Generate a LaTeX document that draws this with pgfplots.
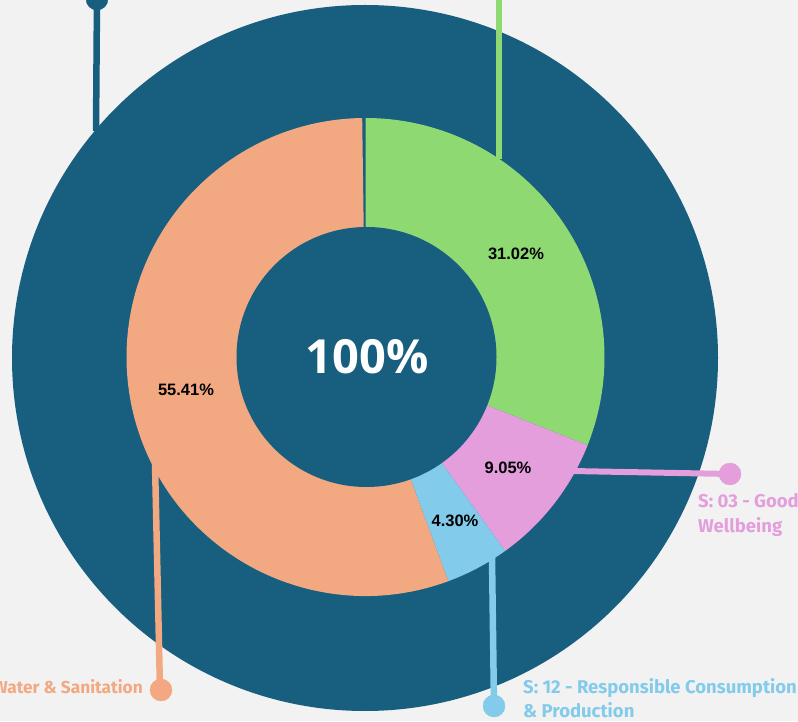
\documentclass[border=0pt]{standalone}
\usepackage{pgfplots}
\usepackage{pgfplotstable}
\pgfplotsset{compat=1.18}
\usepackage{fontspec}
\setmainfont{Liberation Sans}
\newfontfamily\hundfont{Open Sans}
\newfontfamily\labfont{Fira Sans}
\definecolor{bgc}{HTML}{F2F2F2}
\definecolor{dblue}{HTML}{175E7F}
\definecolor{cgreen}{HTML}{8FD973}
\definecolor{cpink}{HTML}{E49EDC}
\definecolor{clblue}{HTML}{83CBEB}
\definecolor{corange}{HTML}{F2A982}
\pgfplotstableread{
value
31.02
9.05
4.30
55.41
}\sdgtable
\begin{document}
\begin{tikzpicture}
\pgfplotstablegetelem{0}{value}\of\sdgtable \let\vA\pgfplotsretval
\pgfplotstablegetelem{1}{value}\of\sdgtable \let\vB\pgfplotsretval
\pgfplotstablegetelem{2}{value}\of\sdgtable \let\vC\pgfplotsretval
\pgfplotstablegetelem{3}{value}\of\sdgtable \let\vD\pgfplotsretval
\pgfmathsetmacro{\aZ}{90}
\pgfmathsetmacro{\aA}{\aZ-3.6*\vA}
\pgfmathsetmacro{\aB}{\aA-3.6*\vB}
\pgfmathsetmacro{\aC}{\aB-3.6*\vC}
\pgfmathsetmacro{\aD}{\aC-3.6*\vD}
\useasboundingbox (0,0) rectangle (798pt,721pt);
\fill[bgc] (0,0) rectangle (798pt,721pt);
\clip (0,0) rectangle (798pt,721pt);
\begin{axis}[
  at={(0,0)}, anchor=south west,
  width=798pt, height=721pt, scale only axis,
  xmin=0, xmax=798, ymin=0, ymax=721,
  axis lines=none, ticks=none, clip=false,
]
% outer ring (100%)
\fill[dblue] (axis cs:365,363) circle[radius=353pt];
% inner donut segments
\fill[cgreen] (axis cs:365.5,364) -- ++(\aZ:239pt) arc[start angle=\aZ, end angle=\aA, radius=239pt] -- cycle;
\fill[cpink] (axis cs:365.5,364) -- ++(\aA:239pt) arc[start angle=\aA, end angle=\aB, radius=239pt] -- cycle;
\fill[clblue] (axis cs:365.5,364) -- ++(\aB:239pt) arc[start angle=\aB, end angle=\aC, radius=239pt] -- cycle;
\fill[corange] (axis cs:365.5,364) -- ++(\aC:239pt) arc[start angle=\aC, end angle=\aD, radius=239pt] -- cycle;
\fill[dblue] (axis cs:366.5,364) circle[radius=130pt];
% leader lines
\addplot[draw=dblue, line width=6.5pt, mark=none] coordinates {(97,723) (96,590)};
\addplot[dblue, only marks, mark=*, mark size=11pt] coordinates {(97,722)};
\addplot[draw=cgreen, line width=6.5pt, mark=none] coordinates {(499,723) (499,562)};
\addplot[draw=cpink, line width=6pt, mark=none] coordinates {(572,250) (730,247)};
\addplot[cpink, only marks, mark=*, mark size=11pt] coordinates {(730,247)};
\addplot[draw=clblue, line width=6.5pt, mark=none] coordinates {(492,164) (494,15)};
\addplot[clblue, only marks, mark=*, mark size=11pt] coordinates {(494,15)};
\addplot[draw=corange, line width=6.5pt, mark=none] coordinates {(155,258) (160,31)};
\addplot[corange, only marks, mark=*, mark size=11pt] coordinates {(161,31)};
% value labels
\node[font=\fontsize{16.5}{20}\selectfont\bfseries] at (axis cs:516,467) {31.02\%};
\node[font=\fontsize{16.5}{20}\selectfont\bfseries] at (axis cs:508,253) {9.05\%};
\node[font=\fontsize{16.5}{20}\selectfont\bfseries] at (axis cs:455,200) {4.30\%};
\node[font=\fontsize{16.5}{20}\selectfont\bfseries] at (axis cs:186,331) {55.41\%};
\node[font=\fontsize{47}{52}\selectfont\hundfont\bfseries, text=white] at (axis cs:367,364) {100\%};
% category labels
\node[anchor=base west, inner sep=0, text=cpink, font=\fontsize{18.5}{22}\selectfont\labfont\bfseries] at (axis cs:698,214) {S: 03 - Good};
\node[anchor=base west, inner sep=0, text=cpink, font=\fontsize{18.5}{22}\selectfont\labfont\bfseries] at (axis cs:698,189) {Wellbeing};
\node[anchor=base west, inner sep=0, text=clblue, font=\fontsize{18.5}{22}\selectfont\labfont\bfseries] at (axis cs:523,28) {S: 12 - Responsible Consumption};
\node[anchor=base west, inner sep=0, text=clblue, font=\fontsize{18.5}{22}\selectfont\labfont\bfseries] at (axis cs:523,4) {\& Production};
\node[anchor=base east, inner sep=0, text=corange, font=\fontsize{17.3}{21}\selectfont\labfont\bfseries] at (axis cs:143,28) {Water \& Sanitation};
\end{axis}
\end{tikzpicture}
\end{document}
